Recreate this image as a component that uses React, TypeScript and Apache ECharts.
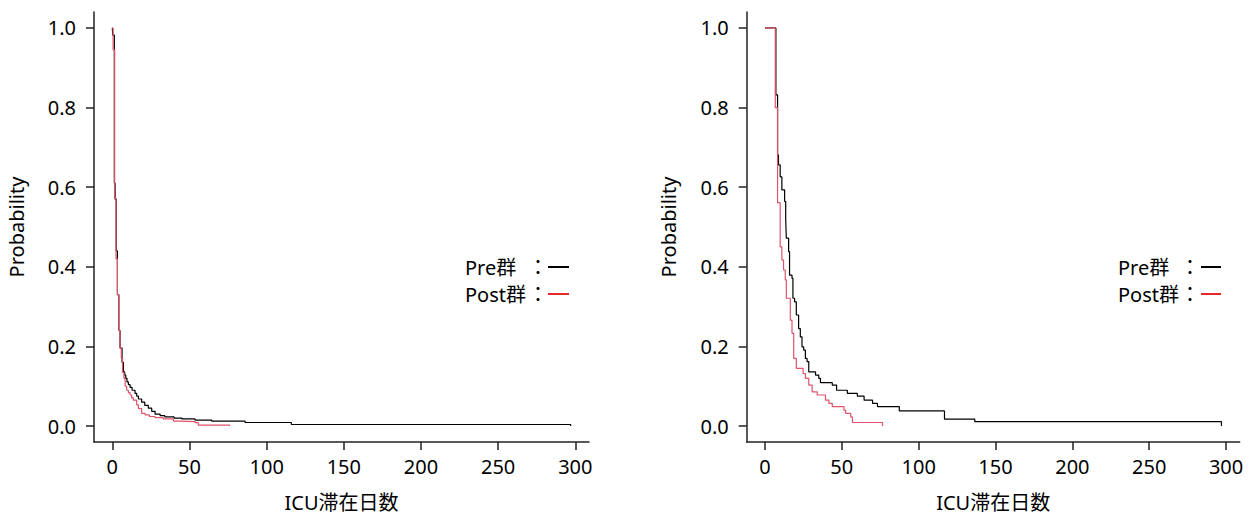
import React, { useEffect, useRef } from "react";
import * as echarts from "echarts";

// ---- tick labels ----
const xTicks = [0, 50, 100, 150, 200, 250, 300];
const yTicks = [0, 0.2, 0.4, 0.6, 0.8, 1.0];

// ---- left panel: Pre群 (black) ----
const leftPreDays = [0, 0.3, 1.3, 1.8, 2.5, 3.3, 4.2, 5.0, 6.3, 7.2, 8.0, 8.7, 9.5, 10.4, 11.5, 12.8, 14.7, 15.8, 16.9, 19, 21, 23.3, 25.5, 27.7, 31, 34, 40, 45, 53.6, 64.4, 86, 116, 297, 297];
const leftPreProb = [1.0, 0.982, 0.61, 0.57, 0.44, 0.33, 0.24, 0.196, 0.16, 0.136, 0.128, 0.12, 0.111, 0.104, 0.097, 0.09, 0.082, 0.075, 0.068, 0.06, 0.052, 0.045, 0.037, 0.03, 0.026, 0.023, 0.02, 0.018, 0.015, 0.0125, 0.009, 0.004, 0.004, 0.0];

// ---- left panel: Post群 (red) ----
const leftPostDays = [0, 0.5, 1.5, 2.4, 3.3, 4.2, 5.0, 5.8, 6.6, 7.5, 8.3, 9.3, 10.4, 11.5, 12.5, 13.6, 15.8, 16.9, 19, 21.2, 24, 27.7, 33, 39.6, 43.9, 53.6, 55.7, 76, 76];
const leftPostProb = [1.0, 0.945, 0.572, 0.42, 0.33, 0.24, 0.196, 0.17, 0.135, 0.12, 0.1, 0.09, 0.084, 0.078, 0.071, 0.065, 0.053, 0.044, 0.032, 0.028, 0.024, 0.021, 0.018, 0.0126, 0.011, 0.0085, 0.0025, 0.0025, 0.0];

// ---- right panel: Pre群 (black) ----
const rightPreDays = [0, 7.1, 8.2, 8.8, 9.9, 11, 12.8, 13.5, 13.9, 15.4, 16.0, 17.6, 18.2, 19.3, 20.4, 21.9, 23.0, 24.1, 25.2, 26.3, 27.4, 28.5, 32.9, 35, 36.1, 43.8, 46.6, 53.6, 60.1, 64.5, 70, 73.2, 87.4, 116.8, 136.5, 297, 297];
const rightPreProb = [1.0, 0.832, 0.681, 0.656, 0.626, 0.593, 0.564, 0.518, 0.472, 0.438, 0.379, 0.371, 0.321, 0.312, 0.279, 0.245, 0.224, 0.199, 0.191, 0.17, 0.162, 0.136, 0.128, 0.12, 0.109, 0.103, 0.09, 0.082, 0.075, 0.065, 0.057, 0.049, 0.038, 0.0176, 0.011, 0.011, 0.0];

// ---- right panel: Post群 (red) ----
const rightPostDays = [0, 6.7, 8.2, 9.9, 11, 12.1, 13.2, 13.9, 16.5, 17.6, 18.7, 20.4, 24.8, 26.3, 28.5, 30.7, 34, 39.4, 41.6, 43.8, 51.4, 52.5, 55.8, 56.9, 76.5, 76.5];
const rightPostProb = [1.0, 0.8, 0.561, 0.45, 0.417, 0.392, 0.367, 0.321, 0.266, 0.233, 0.17, 0.145, 0.132, 0.12, 0.103, 0.086, 0.078, 0.065, 0.057, 0.049, 0.04, 0.032, 0.023, 0.009, 0.009, 0.0];

const legendLabels = ["Pre群", "Post群"];

const FONT = "'Noto Sans', 'Noto Sans CJK JP', sans-serif";
const FS = 20;
const PRE_COLOR = "#000000";
const POST_COLOR = "#DF536B";

const zip = (xs: number[], ys: number[]) => xs.map((x, i) => [x, ys[i]]);

export default function App() {
  const ref = useRef<HTMLDivElement>(null);

  useEffect(() => {
    if (!ref.current) return;
    const chart = echarts.init(ref.current, undefined, { renderer: "svg" });

    const axisLineStyle = { color: "#222", width: 1.5 };
    const mkX = (gi: number) => ({
      type: "value",
      gridIndex: gi,
      min: -11.88,
      max: 308.88,
      axisLine: { show: true, onZero: false, lineStyle: axisLineStyle },
      axisTick: { show: true, length: 8, customValues: xTicks, lineStyle: axisLineStyle },
      axisLabel: { customValues: xTicks, fontSize: FS, color: "#000", margin: 14, fontFamily: FONT },
      splitLine: { show: false },
      name: "ICU滞在日数",
      nameLocation: "middle",
      nameGap: 50,
      nameTextStyle: { fontSize: FS, lineHeight: 20, color: "#000", fontFamily: FONT },
    });
    const mkY = (gi: number) => ({
      type: "value",
      gridIndex: gi,
      min: -0.04,
      max: 1.04,
      axisLine: { show: true, onZero: false, lineStyle: axisLineStyle },
      axisTick: { show: true, length: 8, customValues: yTicks, lineStyle: axisLineStyle },
      axisLabel: {
        customValues: yTicks,
        fontSize: FS,
        color: "#000",
        margin: 18,
        fontFamily: FONT,
        formatter: (v: number) => v.toFixed(1),
      },
      splitLine: { show: false },
      name: "Probability",
      nameLocation: "middle",
      nameGap: 68,
      nameTextStyle: { fontSize: FS, color: "#000", fontFamily: FONT },
    });

    const mkSeries = (name: string, data: number[][], color: string, gi: number) => ({
      type: "line",
      name,
      step: "end",
      symbol: "none",
      xAxisIndex: gi,
      yAxisIndex: gi,
      data,
      lineStyle: { color, width: 1.2 },
      itemStyle: { color },
      silent: true,
    });

    const legendGraphic = (textX: number, colonX: number, lineX1: number, lineX2: number) => {
      const rows = [
        { y: 267, label: legendLabels[0], color: PRE_COLOR },
        { y: 294, label: legendLabels[1], color: "#e8262c" },
      ];
      const els: any[] = [];
      rows.forEach((r) => {
        els.push({
          type: "text",
          x: textX,
          y: r.y,
          style: { text: r.label, fontSize: FS, fontFamily: FONT, fill: "#000", align: "left", verticalAlign: "middle" },
        });
        els.push({
          type: "text",
          x: colonX,
          y: r.y,
          style: { text: "：", fontSize: FS, fontFamily: FONT, fill: "#000", align: "center", verticalAlign: "middle" },
        });
        els.push({
          type: "line",
          shape: { x1: lineX1, y1: r.y, x2: lineX2, y2: r.y },
          style: { stroke: r.color, lineWidth: 2 },
        });
      });
      return els;
    };

    chart.setOption({
      animation: false,
      backgroundColor: "#fff",
      textStyle: { fontFamily: FONT },
      grid: [
        { left: 94, top: 12, width: 495, height: 430, outerBoundsMode: "none", containLabel: false },
        { left: 746.7, top: 12, width: 493, height: 430, outerBoundsMode: "none", containLabel: false },
      ],
      xAxis: [mkX(0), mkX(1)],
      yAxis: [mkY(0), mkY(1)],
      series: [
        mkSeries("Pre群", zip(leftPreDays, leftPreProb), PRE_COLOR, 0),
        mkSeries("Post群", zip(leftPostDays, leftPostProb), POST_COLOR, 0),
        mkSeries("Pre群", zip(rightPreDays, rightPreProb), PRE_COLOR, 1),
        mkSeries("Post群", zip(rightPostDays, rightPostProb), POST_COLOR, 1),
      ],
      graphic: [...legendGraphic(465, 538, 548, 569), ...legendGraphic(1118, 1190, 1201, 1221)],
    });

    return () => chart.dispose();
  }, []);

  return (
    <div
      ref={ref}
      style={{ position: "absolute", left: 0, top: 0, width: 1255, height: 515, background: "#fff" }}
    />
  );
}
